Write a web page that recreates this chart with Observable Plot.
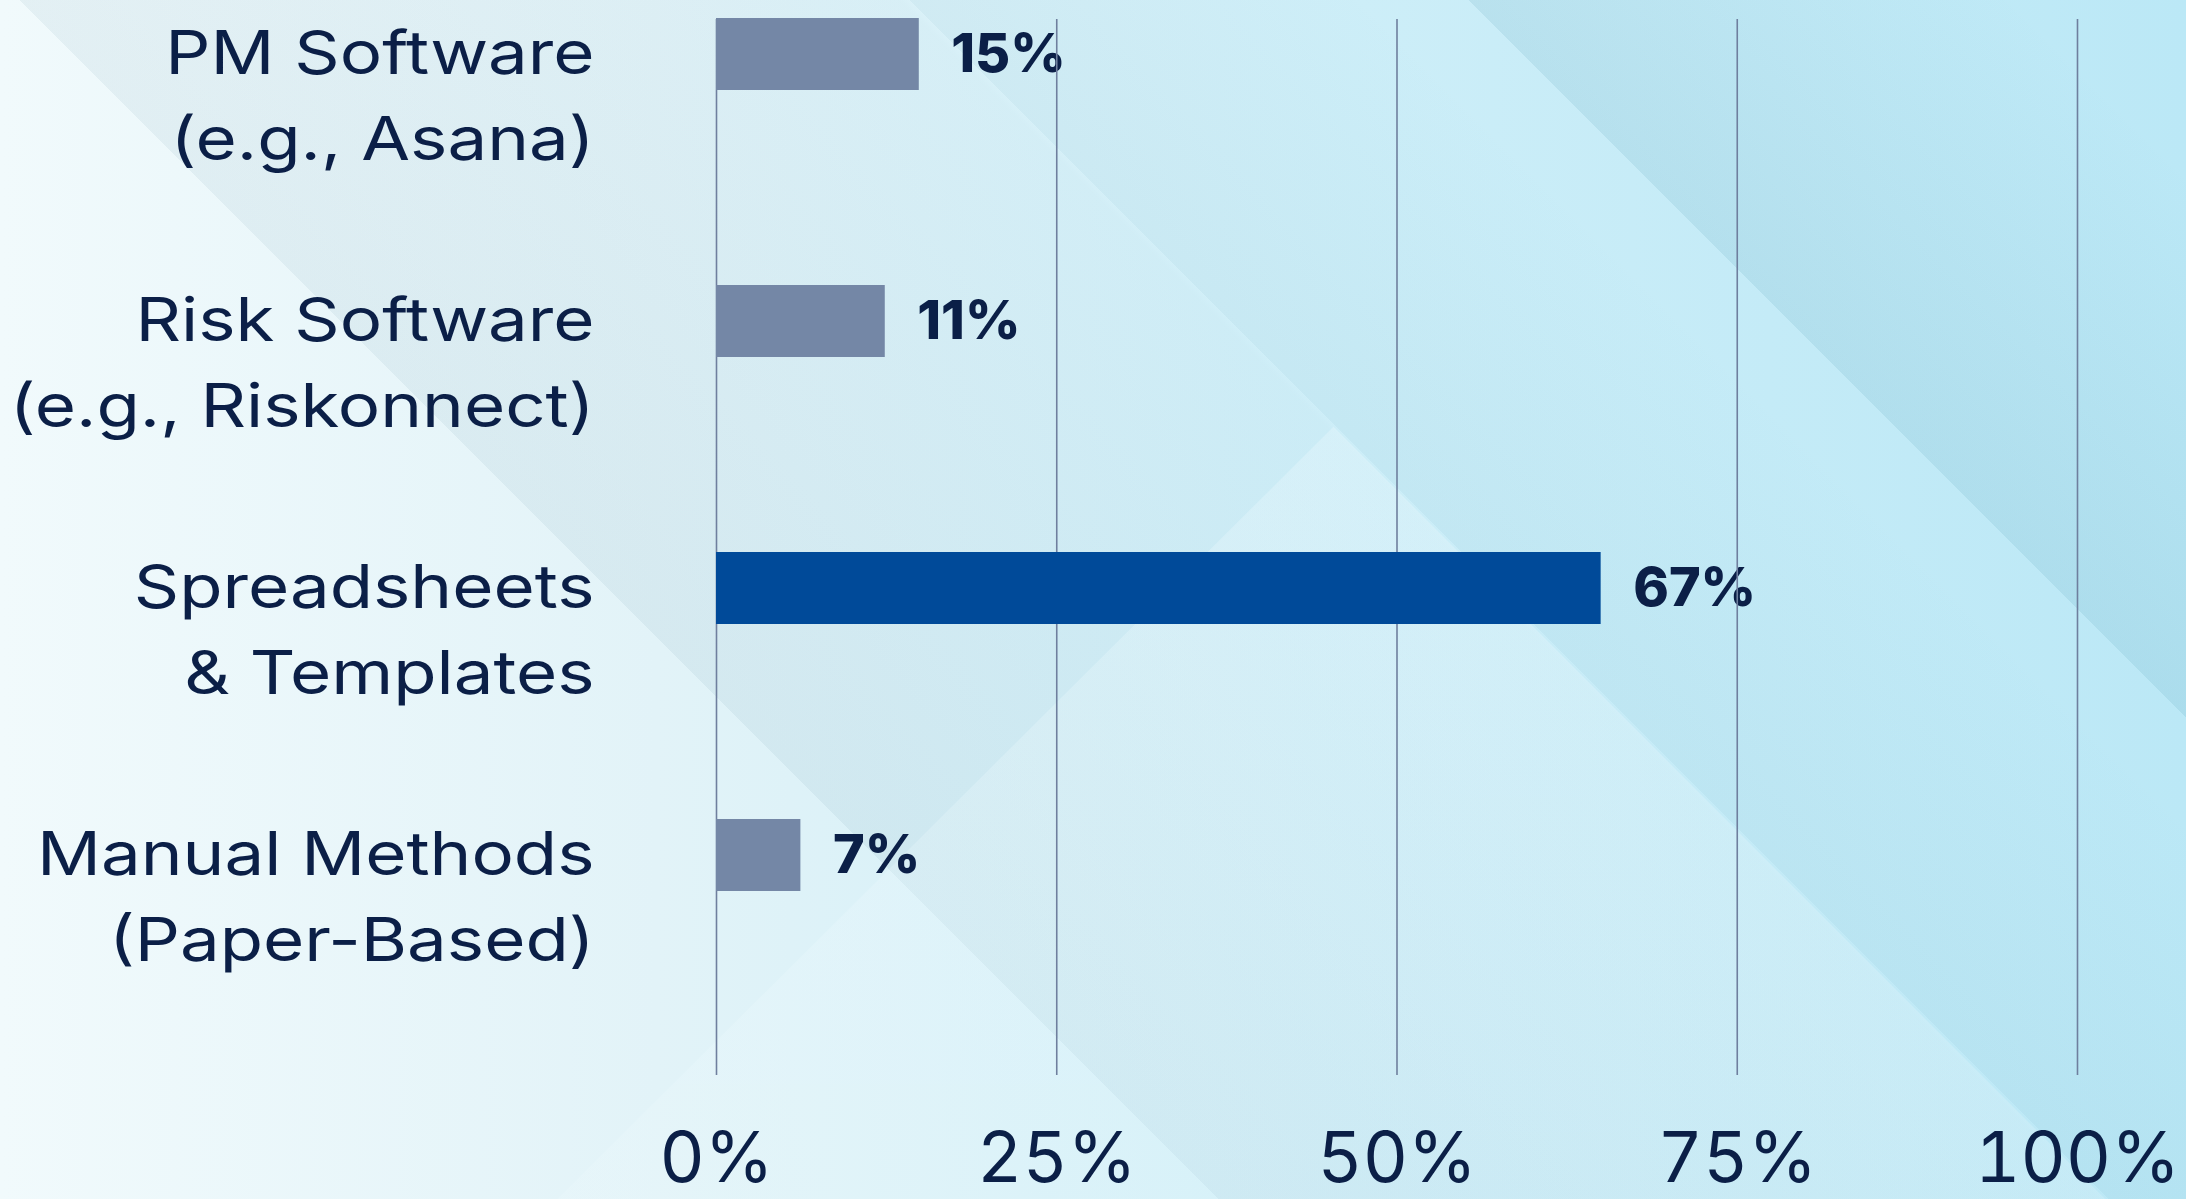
<!DOCTYPE html>
<html>
<head>
<meta charset="utf-8">
<script src="https://cdn.jsdelivr.net/npm/d3@7"></script>
<script src="https://cdn.jsdelivr.net/npm/@observablehq/plot@0.6"></script>
<style>
  html, body { margin: 0; padding: 0; }
  body {
    position: relative;
    width: 2186px; height: 1199px; overflow: hidden;
    background-repeat: no-repeat;
    background-image:
      linear-gradient(45deg, rgba(0,0,0,0) 36%, rgba(60,115,140,0.075) 36%, rgba(60,115,140,0.02) 62%, rgba(0,0,0,0) 62.3%),
      linear-gradient(45deg, rgba(0,0,0,0) 62.3%, rgba(40,125,155,0.055) 62.3%, rgba(40,125,155,0) 76%),
      linear-gradient(45deg, rgba(0,0,0,0) 78.8%, rgba(30,120,150,0.10) 78.8%, rgba(30,120,150,0) 95%),
      linear-gradient(90deg, #f1fafc 0%, #e2f3f8 30%, #cdeef8 62%, #bbe8f6 100%);
  }
  /* decorative lighter triangle rising from the bottom edge */
  .deco-tri {
    position: absolute; left: 0; top: 0; width: 2186px; height: 1199px;
    background: linear-gradient(180deg, rgba(240,251,255,0.35) 0%, rgba(240,251,255,0.2) 100%);
    clip-path: polygon(61% 35.6%, 96.3% 100%, 25.5% 100%);
  }
  #chart { position: absolute; left: 0; top: 0; }
  #chart svg { display: block; }
</style>
</head>
<body>
<div class="deco-tri"></div>
<div id="chart"></div>
<script>
// ---- data ----
const categories = [
  "PM Software\n(e.g., Asana)",
  "Risk Software\n(e.g., Riskonnect)",
  "Spreadsheets\n& Templates",
  "Manual Methods\n(Paper-Based)"
];
const shares = [14.9, 12.4, 65.0, 6.2];          // bar lengths as drawn (%)
const shareLabels = ["15%", "11%", "67%", "7%"];  // printed value labels
const highlighted = [false, false, true, false];
const xTicks = [0, 25, 50, 75, 100];
const xTickLabels = ["0%", "25%", "50%", "75%", "100%"];

const rows = categories.map((c, i) => ({
  category: c,
  line1: c.split("\n")[0],
  line2: c.split("\n")[1],
  share: shares[i],
  label: shareLabels[i],
  color: highlighted[i] ? "#004a99" : "#7487a6"
}));

// ---- style / layout ----
const navy = "#0b1f47";
const W = 2186, H = 1199;
const step = 267.5, barH = 72, top0 = 17;
const pin = 1 - barH / step;
const labelDx = -122, labelSize = 60, stretch = 1.18, lineGap = 86;

const chart = Plot.plot({
  width: W,
  height: H,
  marginLeft: 716,
  marginRight: 109,
  marginTop: 19,
  marginBottom: 124,
  style: {background: "transparent", fontFamily: "Inter, sans-serif", color: navy, overflow: "visible"},
  x: {domain: [0, 100], label: null},
  y: {type: "band", domain: categories, range: [top0, top0 + step * (categories.length - pin)],
      paddingInner: pin, paddingOuter: 0, axis: null},
  color: {type: "identity"},
  marks: [
    Plot.text(rows, {x: "share", y: "category", text: "label", dx: 32, textAnchor: "start",
      fontSize: 54, fontWeight: 800, fill: navy}),
    Plot.gridX(xTicks, {stroke: "#6f7f9e", strokeOpacity: 1, strokeWidth: 1.6}),
    Plot.barX(rows, {x: "share", y: "category", fill: "color"}),
    Plot.text(rows, {y: "category", text: "line1", frameAnchor: "left", textAnchor: "end",
      dx: labelDx, fontSize: labelSize, fill: navy}),
    Plot.text(rows, {y: "category", text: "line2", frameAnchor: "left", textAnchor: "end",
      dx: labelDx, dy: lineGap, fontSize: labelSize, fill: navy}),
    Plot.axisX(xTicks, {tickSize: 0, tickPadding: 57, fontSize: 70, fill: navy, label: null,
      tickFormat: d => xTickLabels[xTicks.indexOf(d)]})
  ]
});

// widen the category labels horizontally around their right-aligned anchor
const ax = chart.scale("x").apply(0) + labelDx;
d3.select(chart).selectAll(`g[font-size="${labelSize}"]`).each(function() {
  const prev = this.getAttribute("transform") || "";
  this.setAttribute("transform", `translate(${ax},0) scale(${stretch},1) translate(${-ax},0) ${prev}`);
});

document.getElementById("chart").appendChild(chart);
</script>
</body>
</html>
